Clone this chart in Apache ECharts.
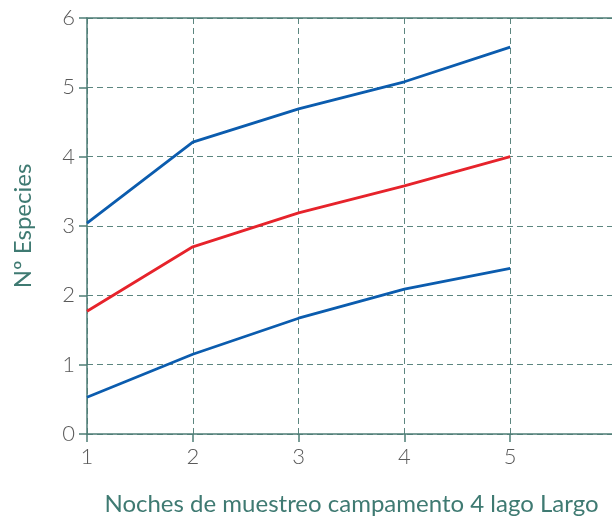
<!DOCTYPE html>
<html><head><meta charset="utf-8">
<script src="https://cdn.jsdelivr.net/npm/echarts@6/dist/echarts.min.js"></script>
<style>html,body{margin:0;padding:0;background:#fff}#c{width:612px;height:516px}</style>
</head><body><div id="c"></div>
<script>
const nights = [1, 2, 3, 4, 5];
const upperBlue = [3.04, 4.21, 4.69, 5.08, 5.58];
const redLine = [1.77, 2.70, 3.19, 3.58, 4.00];
const lowerBlue = [0.53, 1.15, 1.67, 2.09, 2.39];
const yTicks = [0, 1, 2, 3, 4, 5, 6];

const axisCol = '#4e7d76';
const gridCol = '#5c8680';
const pair = arr => nights.map((n, i) => [n, arr[i]]);
const chart = echarts.init(document.getElementById('c'), null, {renderer: 'canvas'});
chart.setOption({
  animation: false,
  grid: {left: 87, top: 18, height: 416, width: 529, outerBoundsMode: 'none', containLabel: false},
  xAxis: [{
    type: 'value', min: 1, max: 6, interval: 1, position: 'bottom',
    name: 'Noches de muestreo campamento 4 lago Largo', nameLocation: 'middle', nameGap: 58,
    nameTextStyle: {fontFamily: 'Lato', fontSize: 24, color: '#3f7a72'},
    axisLine: {show: true, lineStyle: {color: axisCol, width: 1.5}},
    axisTick: {show: true, length: 8, lineStyle: {color: axisCol, width: 1.5}},
    axisLabel: {fontFamily: 'Lato', fontWeight: 300, fontSize: 22, color: '#5a5a5a', margin: 12,
      formatter: v => v <= 5 ? String(v) : ''},
    splitLine: {show: true, lineStyle: {color: gridCol, type: [6, 4], width: 1}}
  }, {
    type: 'value', min: 1, max: 6, position: 'top',
    axisLine: {show: true, lineStyle: {color: axisCol, width: 1.5}},
    axisTick: {show: false}, axisLabel: {show: false}, splitLine: {show: false}
  }],
  yAxis: {
    type: 'value', min: yTicks[0], max: yTicks[yTicks.length - 1], interval: 1,
    name: 'Nº Especies', nameLocation: 'middle', nameGap: 52, nameRotate: 90,
    nameTextStyle: {fontFamily: 'Lato', fontSize: 24, color: '#3f7a72'},
    axisLine: {show: true, lineStyle: {color: axisCol, width: 1.5}},
    axisTick: {show: true, length: 8, lineStyle: {color: axisCol, width: 1.5}},
    axisLabel: {fontFamily: 'Lato', fontWeight: 300, fontSize: 22, color: '#5a5a5a', margin: 12},
    splitLine: {show: true, lineStyle: {color: gridCol, type: [6, 4], width: 1}}
  },
  series: [
    {type: 'line', data: pair(upperBlue), showSymbol: false, lineStyle: {color: '#0b5cae', width: 2.8}},
    {type: 'line', data: pair(redLine), showSymbol: false, lineStyle: {color: '#e6232b', width: 2.8}},
    {type: 'line', data: pair(lowerBlue), showSymbol: false, lineStyle: {color: '#0b5cae', width: 2.8}}
  ]
});
</script></body></html>
